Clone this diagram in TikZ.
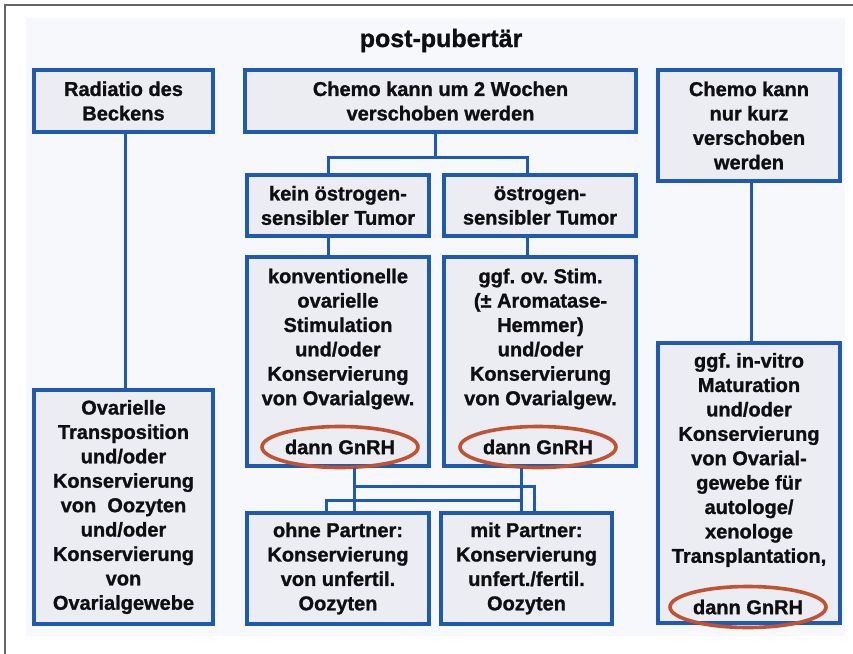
\documentclass[tikz,border=0pt]{standalone}
\usepackage{fontspec}
\setmainfont{Liberation Sans}[BoldFeatures={FakeBold=1.2}]
\usetikzlibrary{shapes.geometric}
\definecolor{bblue}{RGB}{30,90,178}
\definecolor{bfill}{RGB}{236,236,243}
\definecolor{eorange}{RGB}{192,84,50}
\definecolor{tdark}{RGB}{15,15,18}
\definecolor{bgc}{RGB}{247,248,251}
\definecolor{framec}{RGB}{100,100,100}
\newcommand\bxfont{\fontsize{20}{24.4}\selectfont\bfseries\frenchspacing}
\newcommand\mybox[6]{%
  \node[bx, minimum width={(#4-#2)*1pt}, minimum height={(#5-#3)*1pt}] (#1) at ({(#2+#4)/2},{(#3+#5)/2}) {#6};}
\begin{document}
\frenchspacing
\begin{tikzpicture}[x=1pt,y=-1pt,
  bx/.style={draw=bblue, fill=bfill, line width=3.4pt, rectangle, inner sep=0pt, align=center, text=tdark, font=\bxfont},
  txt/.style={align=center, text=tdark, inner sep=0pt, font=\bxfont},
  gn/.style={ellipse, draw=eorange, line width=3.6pt, minimum width=156pt, minimum height=41pt, inner sep=0pt, text=tdark, font=\bxfont},
  conn/.style={draw=bblue, line width=3pt},
  ttl/.style={text=tdark, inner sep=0pt, font=\fontsize{25}{30}\selectfont\bfseries}]
\useasboundingbox (0,0) rectangle (853,653);
\fill[bgc] (26,18) rectangle (845,636);
\draw[framec, line width=1.8pt] (5,660) -- (5,5) -- (860,5);

\node[ttl, anchor=base] (title) at (441,47) {post-pubertär};

% column / junction coordinates
\coordinate (colrad) at (125,0);
\coordinate (colkurz) at (751,0);
\coordinate (j1) at (435,157);
\coordinate (colkein) at (328,0);
\coordinate (coloes) at (527,0);
\coordinate (r1) at (354,486);
\coordinate (r2) at (521,500);
\coordinate (colmit) at (534,0);
\coordinate (colohne) at (326,0);

% boxes
\mybox{rad}{34}{70}{213}{132}{Radiatio des\\Beckens}
\mybox{c2w}{245}{70}{636}{132}{Chemo kann um 2 Wochen\\verschoben werden}
\mybox{kurz}{658}{70}{840}{181}{Chemo kann\\nur kurz\\verschoben\\werden}
\mybox{kein}{247}{175}{429}{236}{kein östrogen-\\sensibler Tumor}
\mybox{oes}{444}{175}{636}{236}{östrogen-\\sensibler Tumor}
\mybox{konv}{247}{257}{429}{466}{}
\mybox{ggf}{444}{257}{636}{466}{}
\mybox{ovar}{34}{390}{213}{624}{Ovarielle\\Transposition\\und/oder\\Konservierung\\von~ Oozyten\\und/oder\\Konservierung\\von\\Ovarialgewebe}
\mybox{vitro}{658}{343}{840}{623}{}
\mybox{ohne}{247}{513}{429}{624}{ohne Partner:\\Konservierung\\von unfertil.\\Oozyten}
\mybox{mit}{441}{513}{612}{624}{mit Partner:\\Konservierung\\unfert./fertil.\\Oozyten}

% texts inside boxes with ellipse
\node[txt] (konvT) at (338,339) {konventionelle\\ovarielle\\Stimulation\\und/oder\\Konservierung\\von Ovarialgew.};
\node[txt] (ggfT) at (540.5,339) {ggf. ov. Stim.\\(± Aromatase-\\Hemmer)\\und/oder\\Konservierung\\von Ovarialgew.};
\node[txt] (vitroT) at (749,460) {ggf. in-vitro\\Maturation\\und/oder\\Konservierung\\von Ovarial-\\gewebe für\\autologe/\\xenologe\\Transplantation,};

\node[gn] (gn1) at (340,447) {dann GnRH};
\node[gn] (gn2) at (538,447) {dann GnRH};
\node[gn] (gn3) at (748,607) {dann GnRH};

% connectors
\draw[conn] (rad.south -| colrad) -- (ovar.north -| colrad);
\draw[conn] (kurz.south -| colkurz) -- (vitro.north -| colkurz);
\draw[conn] (c2w.south -| j1) -- (j1);
\draw[conn] (kein.north -| colkein) |- (j1) -| (oes.north -| coloes);
\draw[conn] (kein.south -| colkein) -- (konv.north -| colkein);
\draw[conn] (oes.south -| coloes) -- (ggf.north -| coloes);
\draw[conn] (konv.south -| r1) -- (ohne.north -| r1);
\draw[conn] (r1) -| (mit.north -| colmit);
\draw[conn] (ggf.south -| r2) -- (mit.north -| r2);
\draw[conn] (r2) -| (ohne.north -| colohne);
\end{tikzpicture}
\end{document}
